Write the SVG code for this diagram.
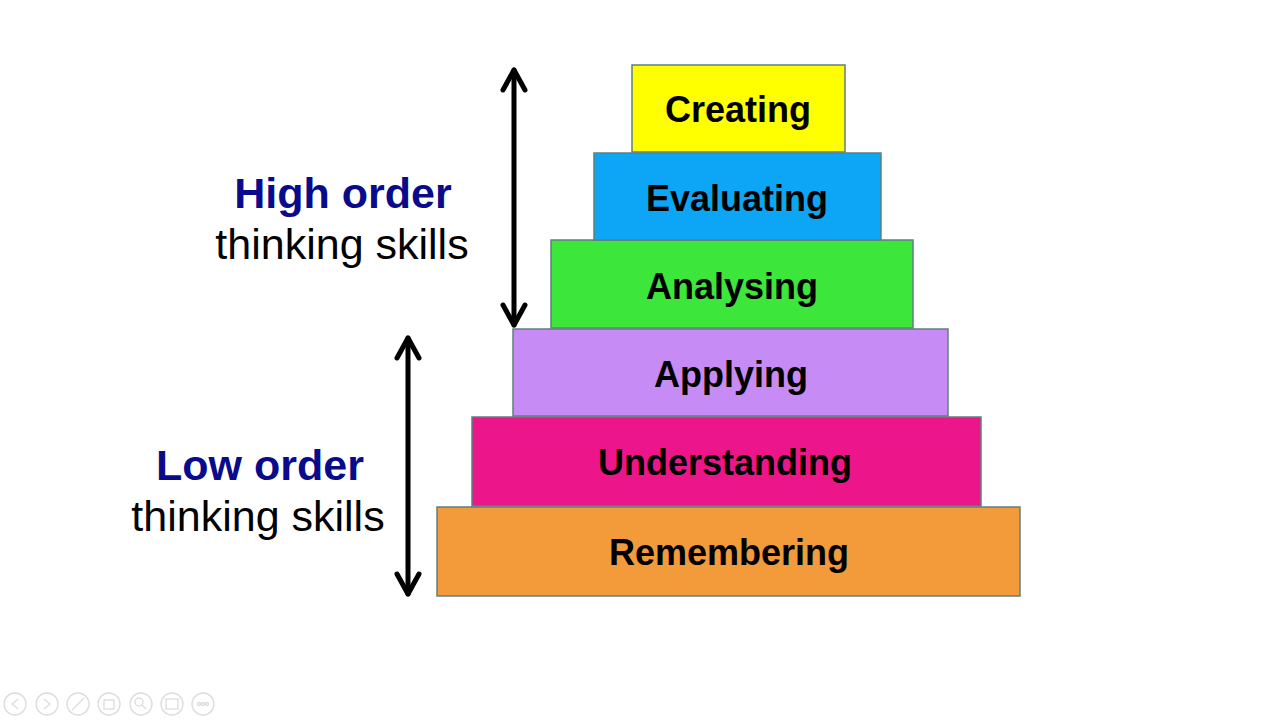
<svg xmlns="http://www.w3.org/2000/svg" width="1280" height="720" viewBox="0 0 1280 720">
<style>
.box{stroke:#5f7f80;stroke-width:1.5}
.lbl{font-family:"Liberation Sans",Arial,sans-serif;font-weight:bold;font-size:36px;fill:#000;text-anchor:middle}
.hd{font-family:"Liberation Sans",Arial,sans-serif;font-weight:bold;font-size:43px;fill:#0a0a8c;text-anchor:middle}
.sub{font-family:"Liberation Sans",Arial,sans-serif;font-size:43px;fill:#000;text-anchor:middle}
.arr{stroke:#000;stroke-width:5;fill:none;stroke-linecap:round;stroke-linejoin:round}
.tb{stroke:#dcdcdc;stroke-width:1.3;fill:none}
</style>
<rect width="1280" height="720" fill="#fff"/>
<g id="connectors">
<line class="arr" x1="514" y1="70" x2="514" y2="325"/>
<polyline class="arr" points="503,90 514,70 525,90"/>
<polyline class="arr" points="503,305 514,325 525,305"/>
<line class="arr" x1="408" y1="338" x2="408" y2="594"/>
<polyline class="arr" points="397,358 408,338 419,358"/>
<polyline class="arr" points="397,574 408,594 419,574"/>
</g>
<g id="remembering"><rect class="box" x="437" y="507" width="583" height="89" fill="#f39a3a"/><text class="lbl" x="729" y="565">Remembering</text></g>
<g id="understanding"><rect class="box" x="472" y="417" width="509" height="89" fill="#ec168a"/><text class="lbl" x="725" y="475">Understanding</text></g>
<g id="applying"><rect class="box" x="513" y="329" width="435" height="87" fill="#c68bf5"/><text class="lbl" x="731" y="387">Applying</text></g>
<g id="analysing"><rect class="box" x="551" y="240" width="362" height="88" fill="#3de63a"/><text class="lbl" x="732" y="299">Analysing</text></g>
<g id="evaluating"><rect class="box" x="594" y="153" width="287" height="87" fill="#0da5f5"/><text class="lbl" x="737" y="211">Evaluating</text></g>
<g id="creating"><rect class="box" x="632" y="65" width="213" height="87" fill="#ffff00"/><text class="lbl" x="738" y="122">Creating</text></g>
<g id="high-order"><text class="hd" x="343" y="208">High order</text><text class="sub" x="342" y="259">thinking skills</text></g>
<g id="low-order"><text class="hd" x="260" y="480">Low order</text><text class="sub" x="258" y="531">thinking skills</text></g>
<g id="toolbar">
<circle class="tb" cx="15" cy="704" r="11"/><polyline class="tb" points="18,699 12,704 18,709"/>
<circle class="tb" cx="47" cy="704" r="11"/><polyline class="tb" points="44,699 50,704 44,709"/>
<circle class="tb" cx="78" cy="704" r="11"/><line class="tb" x1="72" y1="710" x2="84" y2="698"/>
<circle class="tb" cx="109" cy="704" r="11"/><rect class="tb" x="104" y="700" width="10" height="9"/>
<circle class="tb" cx="141" cy="704" r="11"/><circle class="tb" cx="139" cy="702" r="4"/><line class="tb" x1="142" y1="705" x2="146" y2="709"/>
<circle class="tb" cx="172" cy="704" r="11"/><rect class="tb" x="166" y="699" width="12" height="10"/>
<circle class="tb" cx="203" cy="704" r="11"/><circle class="tb" cx="199" cy="704" r="1.5"/><circle class="tb" cx="203" cy="704" r="1.5"/><circle class="tb" cx="207" cy="704" r="1.5"/>
</g>
</svg>
